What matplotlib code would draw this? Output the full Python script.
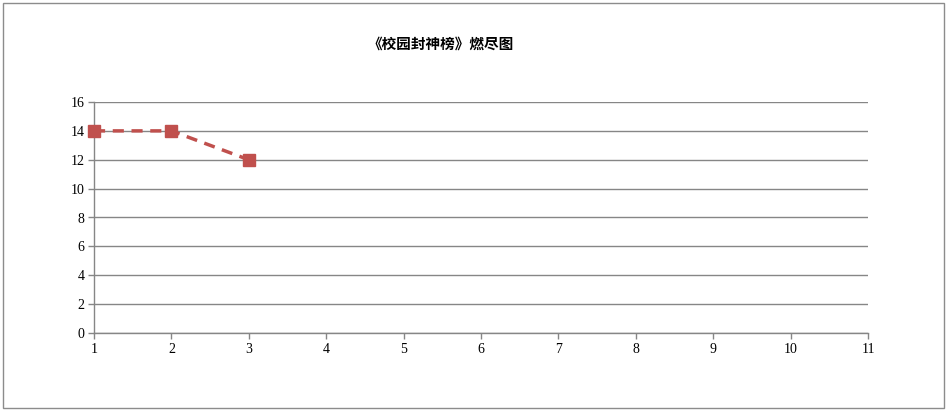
import matplotlib
matplotlib.use("Agg")
import matplotlib.pyplot as plt
from matplotlib.patches import Rectangle

days = [1, 2, 3]
remaining = [14, 14, 12]
x_ticks = list(range(1, 12))
y_ticks = list(range(0, 17, 2))
title = "《校园封神榜》燃尽图"

W, H = 948, 419
fig = plt.figure(figsize=(W / 100, H / 100), dpi=100)
fig.patch.set_facecolor("white")

# chart frame
fig.patches.append(Rectangle((3 / W, (H - 408) / H), 941 / W, 405 / H, transform=fig.transFigure,
                             fill=False, edgecolor="#8c8c8c", linewidth=1.0))

ax = fig.add_axes([94 / W, (H - 333) / H, (868 - 94) / W, (333 - 102) / H])
ax.plot(days, remaining, color="#C0504D", linestyle=(0, (3.2, 2.2)), linewidth=2.5,
        marker="s", markersize=8, markerfacecolor="#C0504D", markeredgecolor="#C0504D",
        clip_on=False, zorder=3)

ax.set_xlim(1, 11)
ax.set_ylim(0, 16)
ax.set_xticks(x_ticks)
ax.set_yticks(y_ticks)
ax.yaxis.grid(True, color="#868686", linewidth=1.0)
ax.set_axisbelow(True)
for s in ["top", "right"]:
    ax.spines[s].set_visible(False)
for s in ["left", "bottom"]:
    ax.spines[s].set_color("#868686")
    ax.spines[s].set_linewidth(1.0)
ax.tick_params(axis="both", direction="out", length=4, color="#868686", width=1.0,
               labelsize=9, pad=3)
for lab in ax.get_xticklabels() + ax.get_yticklabels():
    lab.set_fontfamily(["Liberation Serif", "DejaVu Serif"])
    lab.set_fontsize(10)

fig.text(441 / W, 1 - 44 / H, title, ha="center", va="center", fontsize=10.5,
         fontweight="bold", family=["Noto Sans CJK SC", "DejaVu Sans"])

fig.savefig("out.png", dpi=100, facecolor="white")
